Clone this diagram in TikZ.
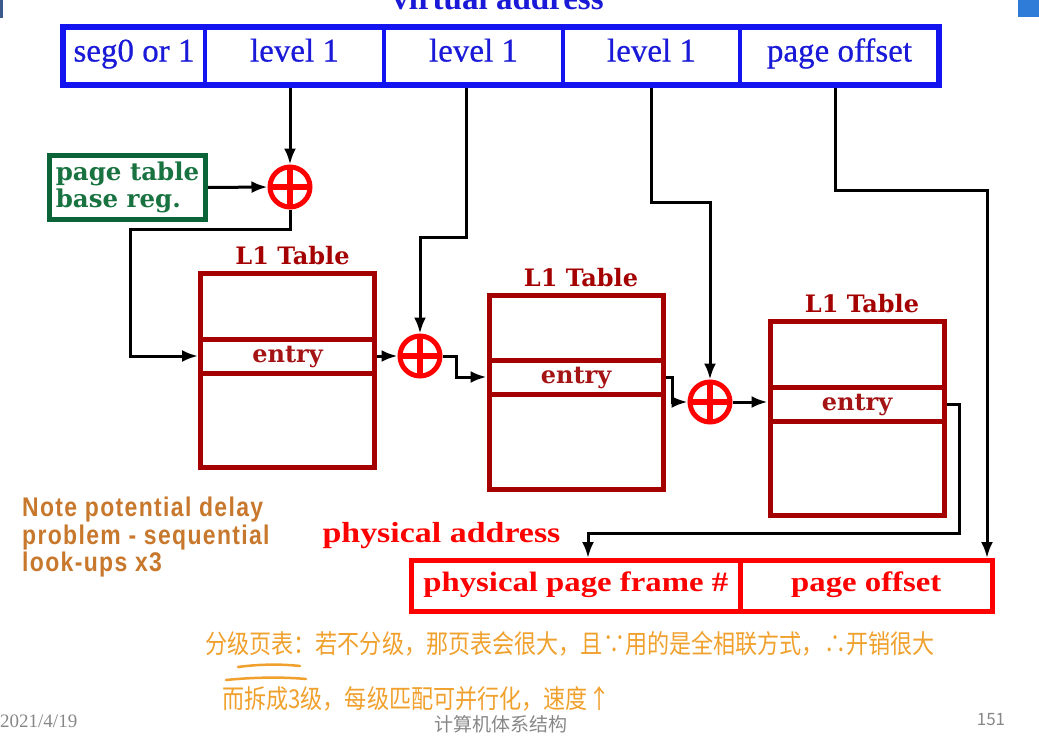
\documentclass[tikz,border=0pt]{standalone}
\usepackage{fontspec}
\setmainfont{Liberation Serif}
\newfontfamily\barfont[FakeBold=0.6]{Liberation Serif}
\newfontfamily\boxfont{DejaVu Serif}
\newfontfamily\physfont[FakeStretch=1.17]{Liberation Serif}
\newfontfamily\notefont[FakeStretch=0.85,LetterSpace=5]{Liberation Sans}
\newfontfamily\cjk{Noto Sans CJK SC}
\newfontfamily\penfont[FakeStretch=0.85]{Noto Sans CJK SC}
\usetikzlibrary{arrows.meta,positioning}

\definecolor{vablue}{RGB}{20,20,240}
\definecolor{vatext}{RGB}{25,25,215}
\definecolor{regdark}{RGB}{10,100,55}
\definecolor{regtext}{RGB}{25,115,65}
\definecolor{tabred}{RGB}{165,0,0}
\definecolor{entrytext}{RGB}{165,20,20}
\definecolor{addred}{RGB}{255,0,0}
\definecolor{notebrown}{RGB}{200,120,45}
\definecolor{penorange}{RGB}{240,160,45}
\definecolor{footgray}{RGB}{135,135,135}
\definecolor{cornerblue}{RGB}{46,123,216}
\definecolor{cornerdark}{RGB}{60,90,140}

\tikzset{
  field/.style={draw=vablue, line width=4pt, minimum height=58, inner sep=0pt, outer sep=0pt,
    text=vatext, font=\barfont\fontsize{33}{36}\selectfont, text height=20pt, text depth=9pt},
  regbox/.style={draw=regdark, line width=5pt, minimum width=156, minimum height=64, inner sep=0pt,
    align=left, text=regtext, font=\boxfont\bfseries\fontsize{24.5}{26.5}\selectfont},
  adder/.style={circle, draw=addred, line width=5pt, minimum size=40, inner sep=0pt,
    path picture={\draw[addred, line width=5.5pt]
      (path picture bounding box.north) -- (path picture bounding box.south)
      (path picture bounding box.west) -- (path picture bounding box.east);}},
  ltable/.style={draw=tabred, line width=5pt, minimum width=174, minimum height=194, inner sep=0pt},
  entrybox/.style={draw=tabred, line width=5pt, minimum width=174, minimum height=34, inner sep=0pt,
    text=entrytext, font=\boxfont\bfseries\fontsize{24}{26}\selectfont, text height=12pt, text depth=0pt},
  tabtitle/.style={inner sep=0pt, text depth=0pt, xshift=5pt, text=tabred,
    font=\boxfont\bfseries\fontsize{24}{26}\selectfont},
  physfield/.style={draw=addred, line width=5pt, minimum height=51, inner sep=0pt, text=addred,
    font=\physfont\bfseries\fontsize{28}{30}\selectfont, text height=17pt, text depth=6pt},
  conn/.style={draw=black, line width=3pt, -{Latex[length=16pt,width=12pt]}},
  pen/.style={anchor=west, inner sep=0pt, text=penorange, font=\penfont\fontsize{26}{28}\selectfont},
}

\begin{document}
\begin{tikzpicture}[x=1pt,y=-1pt]
\useasboundingbox (0,0) rectangle (1039,739);
\clip (0,0) rectangle (1039,739);

% slide corner marks
\fill[cornerblue] (1018,0) rectangle (1039,17);
\fill[cornerdark] (0,0) rectangle (3,18);

% virtual address
\node[anchor=base, text=vatext, font=\bfseries\fontsize{33}{36}\selectfont] (vtitle) at (498,9) {virtual address};
\foreach \nm/\cx/\w/\txt in {seg/134/142/seg0 or 1, lvA/294.5/179/level 1, lvB/473.5/179/level 1,
                            lvC/651.5/177/level 1, off/839.5/199/page offset} {
    \node[field, minimum width=\w] (\nm) at (\cx,56) {\txt};
}
\draw[vablue, line width=6pt] (seg.north west) rectangle (off.south east);

% base register, adders and tables
\node[regbox] (base) at (127.5,187.5) {page table\\base reg.};

\foreach \n/\cx/\cy in {A/290/187, B/420/356, C/710/402} {
    \node[adder] (add\n) at (\cx,\cy) {};
}

\foreach \n/\cx/\cy/\ey in {A/287.5/370.5/356, B/576/392/377, C/857/418.5/404} {
    \node[ltable] (tab\n) at (\cx,\cy) {};
    \node[entrybox] (ent\n) at (\cx,\ey) {entry};
    \node[tabtitle, above=6pt of tab\n] (ttl\n) {L1 Table};
}

% physical address
\node[anchor=base west, text=addred, font=\physfont\bfseries\fontsize{29}{31}\selectfont] (paddr) at (319,542) {physical address};
\node[physfield, minimum width=328.5] (frm) at (575.75,586) {physical page frame \#};
\node[physfield, minimum width=252.5] (poff) at (866.25,586) {page offset};

% connectors
\draw[conn] ([xshift=-4.5pt,yshift=-3pt]lvA.south) -- (addA.north);
\draw[conn] (base.east) -- (addA.west);
\draw[conn] (addA.south) -- ++(0,20) -| ([xshift=-68pt]entA.west) -- (entA.west);
\draw[conn] (entA.east) -- (addB.west);
\draw[conn] ([xshift=-7.5pt,yshift=-3pt]lvB.south) -- ++(0,149) -| (addB.north);
\draw[conn] (addB.east) -- ++(14,0) |- (entB.west);
\draw[conn] (entB.east) -- ++(7,0) |- (addC.west);
\draw[conn] ([yshift=-3pt]lvC.south) -- ++(0,114) -| (addC.north);
\draw[conn] (addC.east) -- (addC.east -| entC.west);
\draw[conn] (entC.east) -- ++(13,0) -- ++(0,129) -| ([xshift=12.25pt]frm.north);
\draw[conn] ([xshift=-4.5pt,yshift=-3pt]off.south) -- ++(0,102) -| ([xshift=120.75pt]poff.north);

% note
\node[anchor=north west, inner sep=0pt, align=left, text=notebrown,
      font=\notefont\bfseries\fontsize{27}{27.5}\selectfont] (note) at (22,497)
      {Note potential delay\\problem - sequential\\look-ups x3};

% handwritten remarks
\node[pen] (penA) at (205,644) {分级页表：若不分级，那页表会很大，且∵用的是全相联方式，∴开销很大};
\draw[penorange, line width=2.5pt, line cap=round] (238,667) .. controls (260,664) and (282,664) .. (300,666);
\draw[penorange, line width=2.5pt, line cap=round] (226,680) .. controls (255,677) and (285,677) .. (306,679);
\node[pen] (penB) at (222,699) {而拆成3级，每级匹配可并行化，速度↑};

% footer
\node[anchor=west, inner sep=0pt, text=footgray, font=\fontsize{19}{21}\selectfont] (date) at (0,721) {2021/4/19};
\node[text=footgray, font=\cjk\fontsize{19}{21}\selectfont] (course) at (501,724) {计算机体系结构};
\node[text=footgray, font=\cjk\fontsize{17}{19}\selectfont] (pgno) at (991,720) {151};
\end{tikzpicture}
\end{document}
